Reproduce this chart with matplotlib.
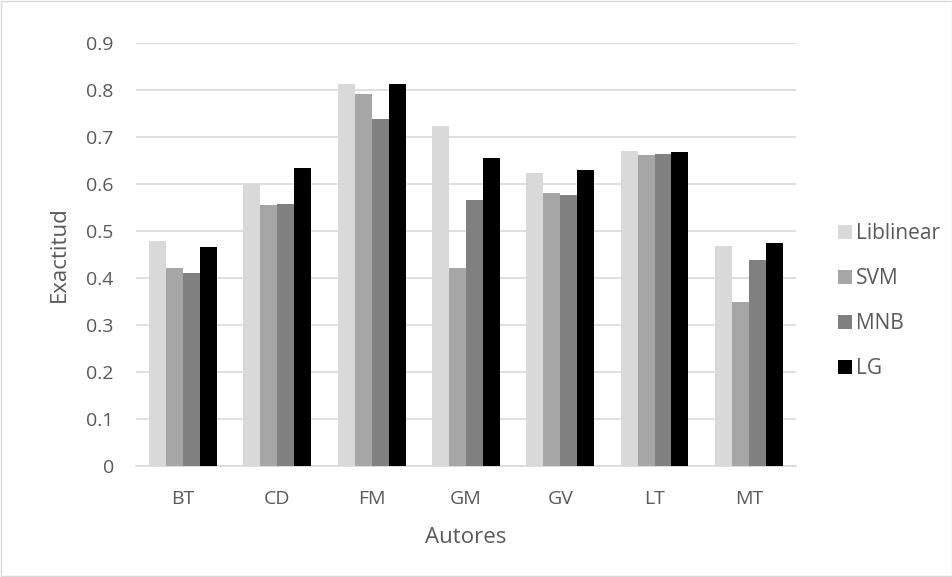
import matplotlib.pyplot as plt
import numpy as np

autores = ["BT", "CD", "FM", "GM", "GV", "LT", "MT"]
liblinear = [0.478, 0.600, 0.812, 0.723, 0.623, 0.670, 0.469]
svm = [0.422, 0.555, 0.791, 0.422, 0.580, 0.661, 0.348]
mnb = [0.410, 0.558, 0.738, 0.565, 0.577, 0.664, 0.438]
lg = [0.465, 0.633, 0.812, 0.655, 0.630, 0.667, 0.475]

series = [("Liblinear", liblinear, "#D9D9D9"), ("SVM", svm, "#A6A6A6"),
          ("MNB", mnb, "#808080"), ("LG", lg, "#000000")]

plt.rcParams['font.family'] = ['Open Sans', 'DejaVu Sans']
txt = "#595959"

fig = plt.figure(figsize=(9.53, 5.77), dpi=100)
ax = fig.add_axes([0.1427, 0.1924, 0.6925, 0.7331])

x = np.arange(len(autores))
w = 0.18
for i, (name, vals, c) in enumerate(series):
    ax.bar(x + (i - 1.5) * w, vals, w, color=c, label=name, zorder=3)

ax.set_ylim(0, 0.9)
ax.set_xlim(-0.5, len(autores) - 0.5)
ax.set_yticks(np.arange(0, 0.91, 0.1))
ax.set_yticklabels(["0"] + [f"{v:.1f}" for v in np.arange(0.1, 0.91, 0.1)])
ax.set_xticks(x)
ax.set_xticklabels(autores)
ax.grid(axis="y", color="#D9D9D9", linewidth=1.2, zorder=0)
for s in ["top", "right", "left"]:
    ax.spines[s].set_visible(False)
ax.spines["bottom"].set_color("#D9D9D9")
ax.spines["bottom"].set_linewidth(1.2)
ax.tick_params(length=0, labelsize=14, colors=txt)
ax.tick_params(axis="y", pad=16)
ax.tick_params(axis="x", pad=17)
ax.set_ylabel("Exactitud", fontsize=16, color=txt, va="center")
ax.yaxis.set_label_coords(-0.1167, 0.5)
ax.set_xlabel("Autores", fontsize=16, color=txt, va="center")
ax.xaxis.set_label_coords(0.5, -0.168)

fig.legend(loc="center left", bbox_to_anchor=(0.879, 0.478), frameon=False,
           fontsize=15, labelcolor=txt, handlelength=0.7, handleheight=0.7,
           labelspacing=1.15, handletextpad=0.2, borderpad=0, borderaxespad=0)

fig.patches.append(plt.Rectangle((0.001, 0.001), 0.998, 0.998, transform=fig.transFigure,
                                 fill=False, edgecolor="#D9D9D9", linewidth=1))
fig.savefig("out.png")
